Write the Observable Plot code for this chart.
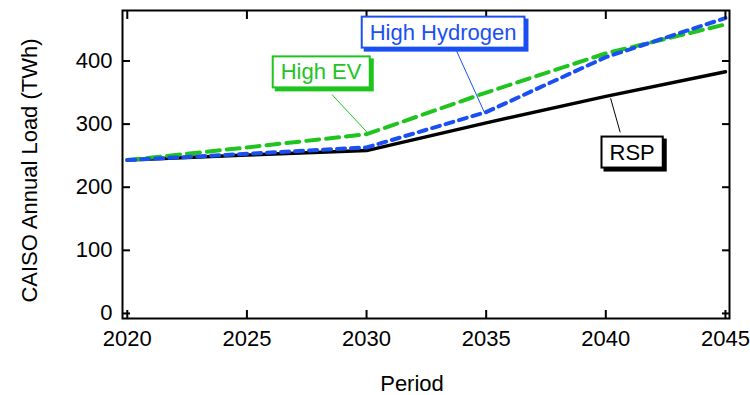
<!DOCTYPE html>
<html><head><meta charset="utf-8">
<script src="https://cdn.jsdelivr.net/npm/d3@7"></script>
<script src="https://cdn.jsdelivr.net/npm/@observablehq/plot@0.6"></script>
<style>
body{margin:0;background:#fff}
#chart svg{font-family:"Liberation Sans",Arial,Helvetica,sans-serif;color:#000;background:#fff}
</style>
</head><body><div id="chart"></div>
<script>
// Data
const periods = [2020, 2025, 2030, 2035, 2040, 2045];
const rsp = [243, 251, 258, 302, 344, 383];
const highEV = [243, 263, 284, 350, 412, 458];
const highHydrogen = [243, 253, 263, 319, 406, 468];
const seriesNames = ["RSP", "High EV", "High Hydrogen"];
const seriesColors = ["#000000", "#1fc41f", "#1a50f2"];
const xTicks = [2020, 2025, 2030, 2035, 2040, 2045];
const yTicks = [0, 100, 200, 300, 400];
// label anchors (period, load) and leader lines
const labelPeriod = [2041.1, 2028.1, 2033.2];
const labelLoad = [255, 382, 445];
const leaderFromPeriod = [2040.6, 2028.55, 2034.92];
const leaderFromLoad = [287, 347, 319];
const leaderToPeriod = [2040.2, 2030.05, 2033.75];
const leaderToLoad = [341, 286, 417];

const allSeries = [rsp, highEV, highHydrogen];
const lineData = seriesNames.map((name, s) =>
  periods.map((p, i) => ({series: name, period: p, load: allSeries[s][i]})));
const labels = seriesNames.map((name, s) => ({name, color: seriesColors[s], period: labelPeriod[s], load: labelLoad[s]}));
const leaders = seriesNames.map((name, s) => ({color: seriesColors[s],
  x1: leaderFromPeriod[s], y1: leaderFromLoad[s], x2: leaderToPeriod[s], y2: leaderToLoad[s]}));

const chart = Plot.plot({
  width: 750,
  height: 395,
  marginLeft: 122,
  marginRight: 21,
  marginTop: 10,
  marginBottom: 77,
  style: {fontSize: "22px", color: "#000", background: "#fff"},
  x: {domain: [2019.8, 2045.17], ticks: xTicks, tickFormat: d => String(d)},
  y: {domain: [-8, 480], ticks: yTicks},
  marks: [
    Plot.line(lineData[0], {x: "period", y: "load", stroke: seriesColors[0], strokeWidth: 3.5}),
    Plot.line(lineData[1], {x: "period", y: "load", stroke: seriesColors[1], strokeWidth: 4, strokeDasharray: "13,7"}),
    Plot.line(lineData[2], {x: "period", y: "load", stroke: seriesColors[2], strokeWidth: 4, strokeDasharray: "8,6"}),
    Plot.link(leaders, {x1: "x1", y1: "y1", x2: "x2", y2: "y2", stroke: "color", strokeWidth: 1}),
    Plot.frame({stroke: "#000", strokeWidth: 2}),
    Plot.axisX({ticks: xTicks, anchor: "bottom", tickSize: 0, tickPadding: 12, label: null, tickFormat: d => String(d), fontSize: 22}),
    Plot.axisX({ticks: xTicks, anchor: "bottom", tickSize: -8, fill: "none", label: null, strokeWidth: 2}),
    Plot.axisX({ticks: xTicks, anchor: "top", tickSize: -8, fill: "none", label: null, strokeWidth: 2}),
    Plot.axisY({ticks: yTicks, anchor: "left", tickSize: 0, tickPadding: 10, label: null, fontSize: 22}),
    Plot.axisY({ticks: yTicks, anchor: "left", tickSize: -8, fill: "none", label: null, strokeWidth: 2}),
    Plot.axisY({ticks: yTicks, anchor: "right", tickSize: -8, fill: "none", label: null, strokeWidth: 2}),
    Plot.text(["Period"], {frameAnchor: "bottom", dy: 65, dx: -14, fontSize: 22, fill: "#000", textAnchor: "middle", lineAnchor: "middle"}),
    Plot.text(["CAISO Annual Load (TWh)"], {frameAnchor: "left", rotate: -90, dx: -93, dy: 6, fontSize: 22, fill: "#000", textAnchor: "middle", lineAnchor: "middle"}),
    Plot.text(labels, {x: "period", y: "load", text: "name", fill: "color", fontSize: 22, textAnchor: "middle", lineAnchor: "middle", className: "series-label"})
  ]
});
document.getElementById("chart").appendChild(chart);

// draw boxed labels with drop shadow around the series labels
const labelGroup = d3.select(chart).select("g.series-label").node() ||
  Array.from(chart.querySelectorAll('g[aria-label="text"]')).pop();
d3.select(labelGroup).selectAll("text").each(function(d, i) {
  const bb = this.getBBox();
  const color = labels[i].color;
  const padX = 8, padY = 3;
  const tr = this.getAttribute("transform");
  const parent = this.parentNode;
  const shadow = document.createElementNS("http://www.w3.org/2000/svg", "rect");
  const box = document.createElementNS("http://www.w3.org/2000/svg", "rect");
  [shadow, box].forEach((r, k) => {
    r.setAttribute("x", bb.x - padX + (k === 0 ? 3 : 0));
    r.setAttribute("y", bb.y - padY + (k === 0 ? 3 : 0));
    r.setAttribute("width", bb.width + 2 * padX);
    r.setAttribute("height", bb.height + 2 * padY);
    if (tr) r.setAttribute("transform", tr);
    r.setAttribute("fill", k === 0 ? color : "#fff");
    r.setAttribute("stroke", color);
    r.setAttribute("stroke-width", 2);
    parent.insertBefore(r, this);
  });
});
</script>
</body></html>
